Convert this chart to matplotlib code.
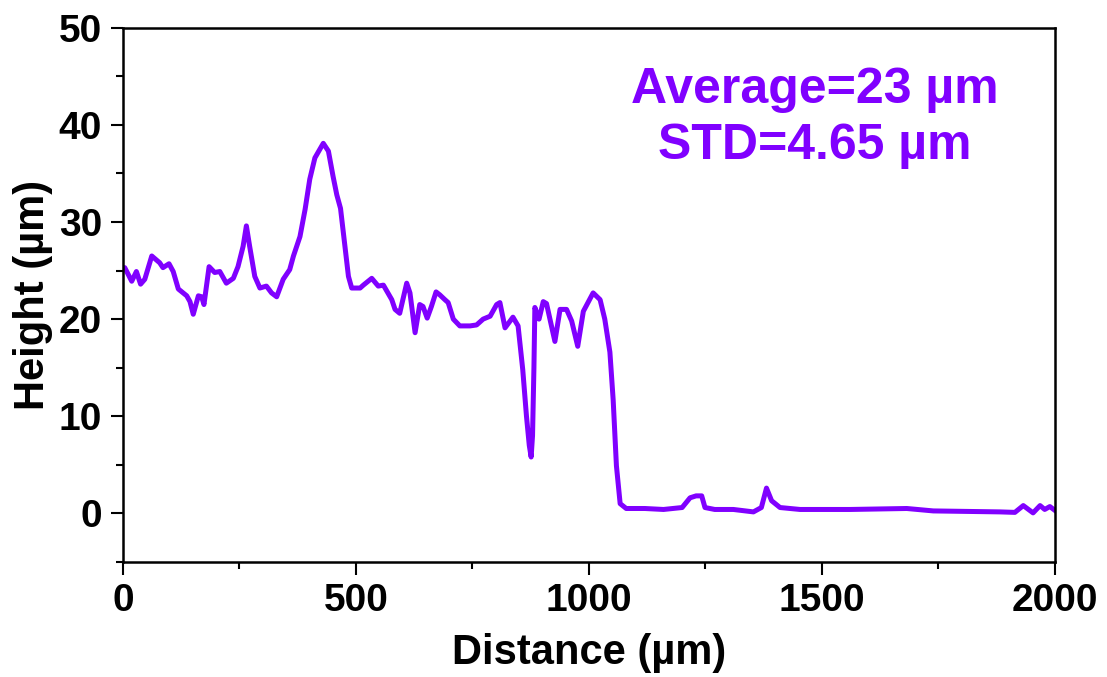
import matplotlib
matplotlib.use("Agg")
import matplotlib.pyplot as plt
from matplotlib.ticker import MultipleLocator

# profile data
distance = [0, 4, 19, 29, 38, 47, 62, 79, 86, 99, 108, 119, 137, 144, 151, 162, 169, 174,
            185, 197, 208, 222, 237, 247, 258, 265, 272, 283, 294, 308, 319, 330, 344, 358,
            366, 380, 391, 401, 412, 430, 441, 451, 459, 467, 474, 484, 491, 509, 516, 534,
            548, 559, 577, 584, 594, 609, 616, 627, 637, 644, 653, 662, 672, 680, 691, 698,
            709, 723, 745, 759, 773, 788, 802, 809, 820, 837, 848, 858, 866, 872, 876, 879,
            882, 884, 893, 902, 909, 927, 938, 952, 963, 976, 988, 1009, 1024, 1034, 1045,
            1052, 1059, 1067, 1080, 1120, 1160, 1200, 1217, 1230, 1242, 1249, 1270, 1310,
            1353, 1370, 1381, 1392, 1410, 1453, 1500, 1560, 1620, 1682, 1739, 1810, 1882,
            1914, 1932, 1953, 1968, 1978, 1989, 2000]
height = [25.2, 25.3, 23.9, 24.9, 23.6, 24.1, 26.5, 25.8, 25.3, 25.7, 24.9, 23.1, 22.4, 21.8,
          20.5, 22.4, 22.3, 21.5, 25.4, 24.8, 24.9, 23.7, 24.2, 25.4, 27.5, 29.6, 27.5, 24.4,
          23.2, 23.4, 22.7, 22.3, 24.1, 25.1, 26.5, 28.5, 31.3, 34.4, 36.6, 38.1, 37.3, 34.7,
          32.8, 31.4, 28.5, 24.4, 23.2, 23.2, 23.5, 24.2, 23.4, 23.5, 22.0, 21.0, 20.6, 23.7,
          22.7, 18.6, 21.5, 21.3, 20.1, 21.3, 22.8, 22.5, 22.0, 21.7, 20.0, 19.3, 19.3, 19.4,
          20.0, 20.3, 21.5, 21.7, 19.1, 20.2, 19.3, 14.8, 10.0, 7.0, 5.8, 8.0, 15.0, 21.2,
          20.0, 21.8, 21.6, 17.7, 21.0, 21.0, 19.8, 17.2, 20.8, 22.7, 22.0, 20.0, 16.6, 11.7,
          4.9, 1.0, 0.5, 0.5, 0.4, 0.6, 1.6, 1.8, 1.8, 0.6, 0.4, 0.4, 0.15, 0.6, 2.6, 1.3, 0.6,
          0.4, 0.4, 0.4, 0.45, 0.5, 0.25, 0.2, 0.15, 0.1, 0.8, 0.05, 0.8, 0.4, 0.7, 0.3]

avg_text = "Average=23 µm\nSTD=4.65 µm"

purple = "#8000ff"

plt.rcParams['font.family'] = ['Liberation Sans', 'DejaVu Sans']
plt.rcParams['font.weight'] = 'bold'

fig = plt.figure(figsize=(11.07, 6.77), dpi=100)
ax = fig.add_axes([0.111, 0.170, 0.842, 0.789])

ax.plot(distance, height, color=purple, linewidth=3.6)

ax.set_xlim(0, 2000)
ax.set_ylim(-5, 50)
ax.xaxis.set_major_locator(MultipleLocator(500))
ax.xaxis.set_minor_locator(MultipleLocator(250))
ax.yaxis.set_major_locator(MultipleLocator(10))
ax.yaxis.set_minor_locator(MultipleLocator(5))
ax.tick_params(which='major', direction='out', length=9, width=1.5, labelsize=28, pad=6)
ax.tick_params(which='minor', direction='out', length=5, width=1.5)
for s in ax.spines.values():
    s.set_linewidth(1.8)

ax.set_xlabel("Distance (µm)", fontsize=30, fontweight='bold', labelpad=10)
ax.set_ylabel("Height (µm)", fontsize=30, fontweight='bold', labelpad=4)

ax.text(1485, 40.7, avg_text, color=purple, fontsize=36, fontweight='bold',
        ha='center', va='center', linespacing=1.28)

plt.savefig("out.png", dpi=100)
